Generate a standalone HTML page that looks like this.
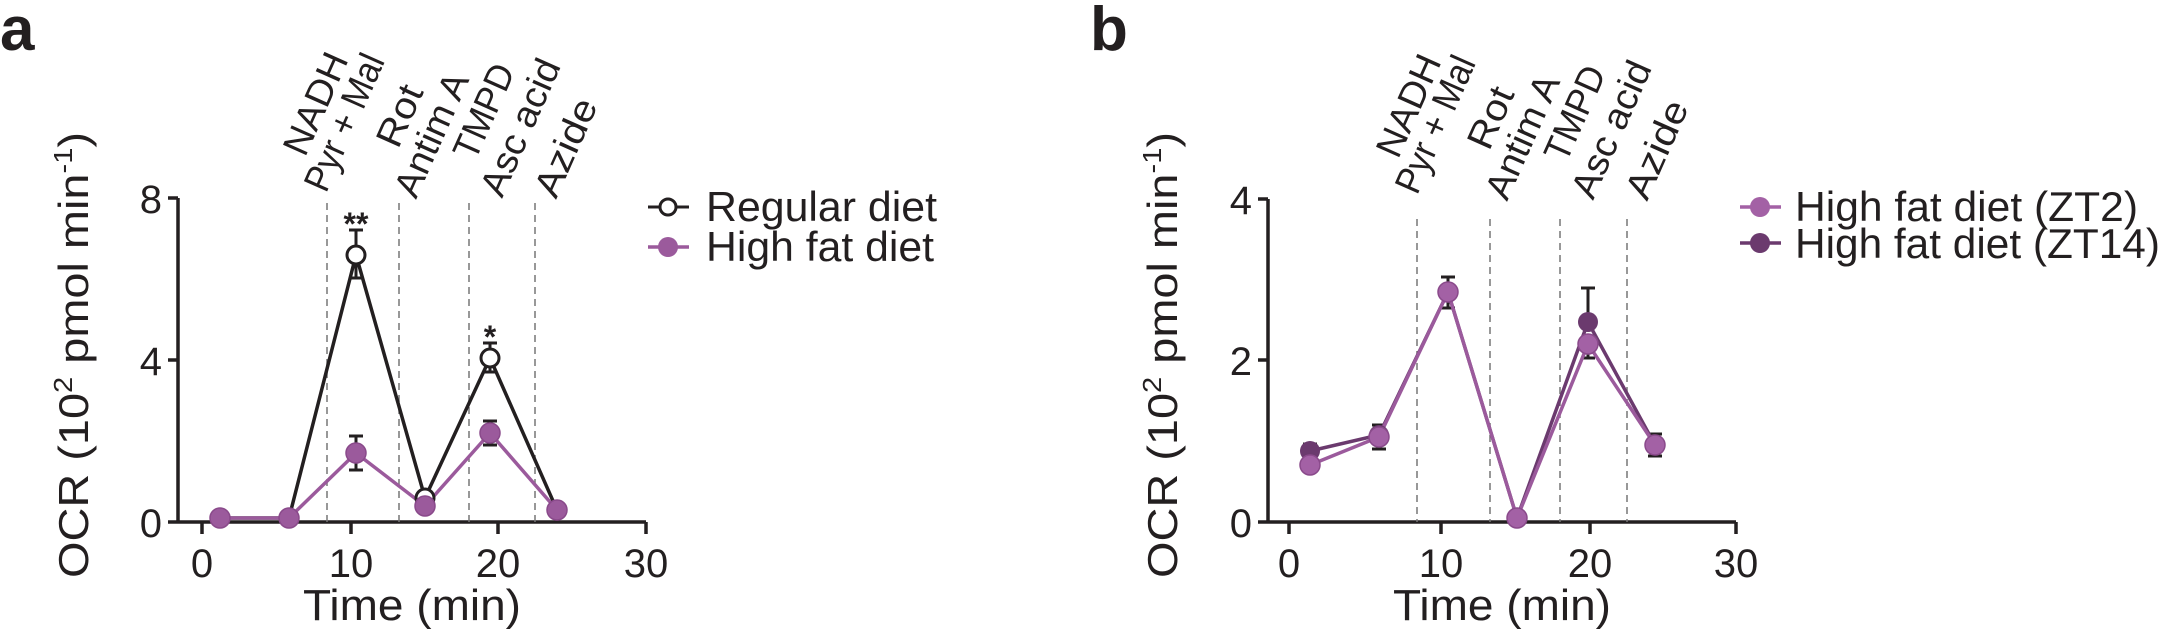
<!DOCTYPE html>
<html><head><meta charset="utf-8"><style>
html,body{margin:0;padding:0;background:#fff}
svg{display:block}
text{font-family:"Liberation Sans",Arial,sans-serif;fill:#231f20}
</style></head><body>
<svg width="2163" height="629" viewBox="0 0 2163 629" xmlns="http://www.w3.org/2000/svg">
<!-- Panel a -->
<text x="0" y="50" font-size="62" font-weight="bold">a</text>
<text transform="translate(88,578) rotate(-90)" font-size="42" textLength="446" lengthAdjust="spacingAndGlyphs">OCR (10<tspan font-size="26" dy="-16">2</tspan><tspan dy="16"> pmol  min</tspan><tspan font-size="26" dy="-16">-1</tspan><tspan dy="16">)</tspan></text>
<g stroke="#231f20" stroke-width="3.5" fill="none">
<line x1="178" y1="522" x2="646" y2="522"/>
<line x1="178" y1="198" x2="178" y2="522"/>
<line x1="168" y1="198" x2="178" y2="198"/><line x1="168" y1="360" x2="178" y2="360"/><line x1="168" y1="522" x2="178" y2="522"/>
<line x1="202" y1="522" x2="202" y2="534"/><line x1="351" y1="522" x2="351" y2="534"/><line x1="498" y1="522" x2="498" y2="534"/><line x1="646" y1="522" x2="646" y2="534"/>
</g>
<g font-size="40" text-anchor="end"><text x="162" y="213">8</text><text x="162" y="375">4</text><text x="162" y="537">0</text></g>
<g font-size="40" text-anchor="middle"><text x="202" y="577">0</text><text x="351" y="577">10</text><text x="498" y="577">20</text><text x="646" y="577">30</text></g>
<text x="412" y="620" font-size="44" text-anchor="middle" textLength="218" lengthAdjust="spacingAndGlyphs">Time (min)</text>
<g stroke="#777" stroke-width="1.5" stroke-dasharray="7,5"><line x1="327" y1="203" x2="327" y2="522"/><line x1="399" y1="203" x2="399" y2="522"/><line x1="469" y1="203" x2="469" y2="522"/><line x1="535" y1="203" x2="535" y2="522"/></g>
<g font-size="37">
<text transform="translate(305,158) rotate(-66)" textLength="108" lengthAdjust="spacingAndGlyphs">NADH</text>
<text transform="translate(326,194) rotate(-66)" textLength="146" lengthAdjust="spacingAndGlyphs">Pyr + Mal</text>
<text transform="translate(398,150) rotate(-66)" textLength="64" lengthAdjust="spacingAndGlyphs">Rot</text>
<text transform="translate(416,200) rotate(-66)" textLength="132" lengthAdjust="spacingAndGlyphs">Antim A</text>
<text transform="translate(475,162) rotate(-66)" textLength="100" lengthAdjust="spacingAndGlyphs">TMPD</text>
<text transform="translate(502,199) rotate(-66)" textLength="146" lengthAdjust="spacingAndGlyphs">Asc acid</text>
<text transform="translate(556,200) rotate(-66)" textLength="104" lengthAdjust="spacingAndGlyphs">Azide</text>
</g>
<g stroke="#231f20" stroke-width="3">
<line x1="356" y1="255" x2="356" y2="230"/><line x1="349" y1="230" x2="363" y2="230"/>
<line x1="356" y1="255" x2="356" y2="278"/><line x1="349" y1="278" x2="363" y2="278"/>
<line x1="490" y1="358" x2="490" y2="343"/><line x1="483" y1="343" x2="497" y2="343"/>
<line x1="490" y1="358" x2="490" y2="372"/><line x1="483" y1="372" x2="497" y2="372"/>
<line x1="356" y1="453" x2="356" y2="436"/><line x1="349" y1="436" x2="363" y2="436"/>
<line x1="356" y1="453" x2="356" y2="470"/><line x1="349" y1="470" x2="363" y2="470"/>
<line x1="490" y1="433" x2="490" y2="421"/><line x1="483" y1="421" x2="497" y2="421"/>
<line x1="490" y1="433" x2="490" y2="445"/><line x1="483" y1="445" x2="497" y2="445"/>
</g>
<polyline points="220,518 289,518 356,255 425,498 490,358 557,510" fill="none" stroke="#231f20" stroke-width="3.5"/>
<polyline points="220,518 289,518 356,453 425,506 490,433 557,510" fill="none" stroke="#9b5a9c" stroke-width="3.5"/>
<g fill="#fff" stroke="#231f20" stroke-width="3"><circle cx="356" cy="255" r="9"/><circle cx="425" cy="498" r="9"/><circle cx="490" cy="358" r="9"/><circle cx="557" cy="510" r="9"/></g>
<g fill="#9b5a9c" stroke="#8a4a8b" stroke-width="1.5"><circle cx="220" cy="518" r="10"/><circle cx="289" cy="518" r="10"/><circle cx="356" cy="453" r="10"/><circle cx="425" cy="506" r="10"/><circle cx="490" cy="433" r="10"/><circle cx="557" cy="510" r="10"/></g>
<text x="356" y="235" font-size="32" font-weight="bold" text-anchor="middle">**</text>
<text x="490" y="348" font-size="32" font-weight="bold" text-anchor="middle">*</text>
<line x1="648" y1="207" x2="689" y2="207" stroke="#231f20" stroke-width="3"/><circle cx="668" cy="207" r="8" fill="#fff" stroke="#231f20" stroke-width="3"/>
<line x1="648" y1="247" x2="689" y2="247" stroke="#9b5a9c" stroke-width="3.5"/><circle cx="668" cy="247" r="10" fill="#9b5a9c"/>
<text x="706" y="221" font-size="42" textLength="231" lengthAdjust="spacingAndGlyphs">Regular diet</text>
<text x="706" y="261" font-size="42" textLength="228" lengthAdjust="spacingAndGlyphs">High fat diet</text>

<!-- Panel b -->
<text x="1090" y="50" font-size="62" font-weight="bold">b</text>
<text transform="translate(1177,578) rotate(-90)" font-size="42" textLength="446" lengthAdjust="spacingAndGlyphs">OCR (10<tspan font-size="26" dy="-16">2</tspan><tspan dy="16"> pmol  min</tspan><tspan font-size="26" dy="-16">-1</tspan><tspan dy="16">)</tspan></text>
<g stroke="#231f20" stroke-width="3.5" fill="none">
<line x1="1268" y1="522" x2="1736" y2="522"/>
<line x1="1268" y1="199" x2="1268" y2="522"/>
<line x1="1258" y1="199" x2="1268" y2="199"/><line x1="1258" y1="360" x2="1268" y2="360"/><line x1="1258" y1="522" x2="1268" y2="522"/>
<line x1="1289" y1="522" x2="1289" y2="534"/><line x1="1441" y1="522" x2="1441" y2="534"/><line x1="1590" y1="522" x2="1590" y2="534"/><line x1="1736" y1="522" x2="1736" y2="534"/>
</g>
<g font-size="40" text-anchor="end"><text x="1252" y="214">4</text><text x="1252" y="375">2</text><text x="1252" y="537">0</text></g>
<g font-size="40" text-anchor="middle"><text x="1289" y="577">0</text><text x="1441" y="577">10</text><text x="1590" y="577">20</text><text x="1736" y="577">30</text></g>
<text x="1502" y="620" font-size="44" text-anchor="middle" textLength="218" lengthAdjust="spacingAndGlyphs">Time (min)</text>
<g stroke="#777" stroke-width="1.5" stroke-dasharray="7,5"><line x1="1417" y1="219" x2="1417" y2="522"/><line x1="1490" y1="219" x2="1490" y2="522"/><line x1="1560" y1="219" x2="1560" y2="522"/><line x1="1627" y1="219" x2="1627" y2="522"/></g>
<g font-size="37">
<text transform="translate(1398,160) rotate(-66)" textLength="108" lengthAdjust="spacingAndGlyphs">NADH</text>
<text transform="translate(1417,196) rotate(-66)" textLength="146" lengthAdjust="spacingAndGlyphs">Pyr + Mal</text>
<text transform="translate(1489,152) rotate(-66)" textLength="64" lengthAdjust="spacingAndGlyphs">Rot</text>
<text transform="translate(1507,202) rotate(-66)" textLength="132" lengthAdjust="spacingAndGlyphs">Antim A</text>
<text transform="translate(1566,164) rotate(-66)" textLength="100" lengthAdjust="spacingAndGlyphs">TMPD</text>
<text transform="translate(1593,201) rotate(-66)" textLength="146" lengthAdjust="spacingAndGlyphs">Asc acid</text>
<text transform="translate(1647,202) rotate(-66)" textLength="104" lengthAdjust="spacingAndGlyphs">Azide</text>
</g>
<g stroke="#231f20" stroke-width="3">
<line x1="1448" y1="292" x2="1448" y2="277"/><line x1="1441" y1="277" x2="1455" y2="277"/>
<line x1="1448" y1="292" x2="1448" y2="308"/><line x1="1441" y1="308" x2="1455" y2="308"/>
<line x1="1588" y1="322" x2="1588" y2="288"/><line x1="1581" y1="288" x2="1595" y2="288"/>
<line x1="1588" y1="344" x2="1588" y2="358"/><line x1="1581" y1="358" x2="1595" y2="358"/>
<line x1="1379" y1="437" x2="1379" y2="425"/><line x1="1372" y1="425" x2="1386" y2="425"/>
<line x1="1379" y1="437" x2="1379" y2="449"/><line x1="1372" y1="449" x2="1386" y2="449"/>
<line x1="1655" y1="445" x2="1655" y2="434"/><line x1="1648" y1="434" x2="1662" y2="434"/>
<line x1="1655" y1="445" x2="1655" y2="456"/><line x1="1648" y1="456" x2="1662" y2="456"/>
<line x1="1310" y1="451" x2="1310" y2="444"/><line x1="1303" y1="444" x2="1317" y2="444"/>
</g>
<polyline points="1310,451 1379,435 1448,292 1517,518 1588,322 1655,445" fill="none" stroke="#6b3a6e" stroke-width="3.5"/>
<polyline points="1310,465 1379,437 1448,292 1517,518 1588,344 1655,445" fill="none" stroke="#9b5a9c" stroke-width="3.5"/>
<g fill="#6b3a6e"><circle cx="1310" cy="451" r="10"/><circle cx="1379" cy="435" r="10"/><circle cx="1588" cy="322" r="10"/></g>
<g fill="#a361a5" stroke="#8a4a8b" stroke-width="1.5"><circle cx="1310" cy="465" r="10"/><circle cx="1379" cy="437" r="10"/><circle cx="1448" cy="292" r="10"/><circle cx="1517" cy="518" r="10"/><circle cx="1588" cy="344" r="10"/><circle cx="1655" cy="445" r="10"/></g>
<line x1="1740" y1="207" x2="1781" y2="207" stroke="#a361a5" stroke-width="3.5"/><circle cx="1760" cy="207" r="10" fill="#a361a5"/>
<line x1="1740" y1="243" x2="1781" y2="243" stroke="#6b3a6e" stroke-width="3.5"/><circle cx="1760" cy="243" r="10" fill="#6b3a6e"/>
<text x="1795" y="221" font-size="42" textLength="343" lengthAdjust="spacingAndGlyphs">High fat diet (ZT2)</text>
<text x="1795" y="258" font-size="42" textLength="365" lengthAdjust="spacingAndGlyphs">High fat diet (ZT14)</text>
</svg>
</body></html>
